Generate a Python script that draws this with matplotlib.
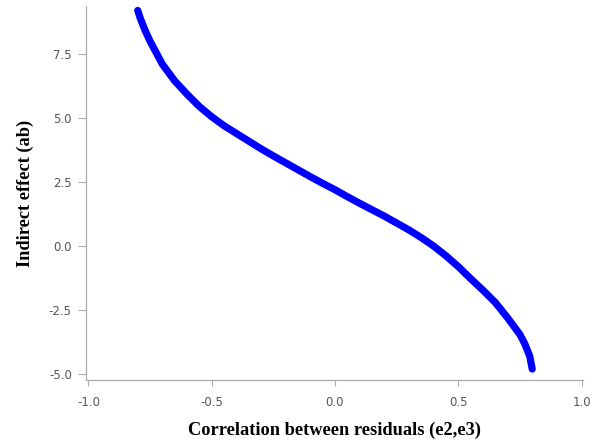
import matplotlib
matplotlib.use("Agg")
import matplotlib.pyplot as plt

# indirect effect ab against the residual correlation between e2 and e3
rho = [-0.80, -0.79, -0.77, -0.75, -0.70, -0.65, -0.60, -0.55, -0.50,
       -0.45, -0.40, -0.35, -0.30, -0.25, -0.20, -0.15, -0.10, -0.05,
       0.00, 0.05, 0.10, 0.15, 0.20, 0.25, 0.30, 0.35, 0.40, 0.45,
       0.50, 0.55, 0.60, 0.65, 0.70, 0.75, 0.77, 0.79, 0.80]
ab = [9.20, 8.90, 8.42, 8.00, 7.10, 6.45, 5.93, 5.45, 5.05,
      4.70, 4.40, 4.10, 3.80, 3.52, 3.25, 2.98, 2.71, 2.45,
      2.20, 1.93, 1.67, 1.42, 1.17, 0.90, 0.63, 0.33, 0.00, -0.38,
      -0.80, -1.27, -1.72, -2.20, -2.80, -3.45, -3.82, -4.30, -4.80]

xticks = [-1.0, -0.5, 0.0, 0.5, 1.0]
yticks = [-5.0, -2.5, 0.0, 2.5, 5.0, 7.5]

fig = plt.figure(figsize=(5.92, 4.44), dpi=100)
ax = fig.add_axes([0.1448, 0.1441, 0.84, 0.8424])

ax.plot(rho, ab, color="#0000ff", linewidth=5.2,
        solid_capstyle="round", solid_joinstyle="round")

ax.set_xlim(-1.011, 1.006)
ax.set_ylim(-5.23, 9.375)
ax.set_xticks(xticks)
ax.set_yticks(yticks)
ax.set_xticklabels([f"{t:.1f}" for t in xticks])
ax.set_yticklabels([f"{t:.1f}" for t in yticks])

for side in ["top", "right"]:
    ax.spines[side].set_visible(False)
for side in ["left", "bottom"]:
    ax.spines[side].set_color("#aaaaaa")
    ax.spines[side].set_linewidth(0.9)

ax.tick_params(axis="x", length=4, width=0.8, color="#aaaaaa", pad=7.5,
               labelsize=8.5, labelcolor="#555555")
ax.tick_params(axis="y", length=6, width=0.8, color="#aaaaaa", pad=4,
               labelsize=8.5, labelcolor="#555555")

label_font = dict(family="Liberation Serif", weight="bold", size=13.2)
ax.set_xlabel("Correlation between residuals (e2,e3)", labelpad=9, **label_font)
ax.set_ylabel("Indirect effect (ab)", labelpad=11, **label_font)

fig.savefig("out.png", dpi=100)
